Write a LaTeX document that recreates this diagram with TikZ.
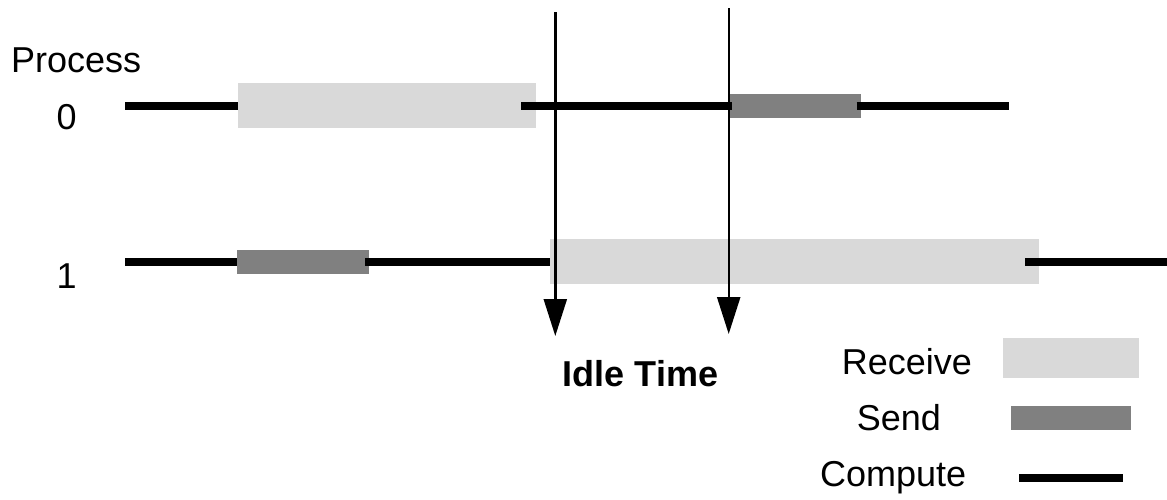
\documentclass[tikz,border=0pt]{standalone}
\usepackage{fontspec}
\setmainfont{Liberation Sans}
\usetikzlibrary{arrows.meta}
\definecolor{recvgray}{HTML}{D9D9D9}
\definecolor{sendgray}{HTML}{808080}
\begin{document}
\begin{tikzpicture}[x=1pt,y=-1pt,
  recvbar/.style={fill=recvgray},
  sendbar/.style={fill=sendgray},
  computebar/.style={line width=7.7pt},
  idlearrow/.style={line width=2.4pt,-{Triangle[length=37pt,width=23pt]}},
  lbl/.style={font=\fontsize{36}{42}\selectfont,inner sep=0pt,anchor=base west},
  boldlbl/.style={lbl,font=\fontsize{36}{42}\selectfont\bfseries}]
\useasboundingbox (0,0) rectangle (1167,499);

% labels for the process rows
\node[lbl] (ptitle) at (11,72) {Process};
\node[lbl] (p0) at (56.5,129) {0};
\node[lbl] (p1) at (56.5,288) {1};

% process 0: receive and send phases
\fill[recvbar] (238,83.3) rectangle (535.7,128.3);
\fill[sendbar] (729.5,94) rectangle (860.7,117.7);
% process 1: send and receive phases
\fill[sendbar] (236.7,250) rectangle (369,273.7);
\fill[recvbar] (550.2,239.3) rectangle (1039.4,284);

% compute segments
\draw[computebar] (125,106) -- (238,106);
\draw[computebar] (521,106) -- (732,106);
\draw[computebar] (856.7,106) -- (1009,106);
\draw[computebar] (125,262) -- (237,262);
\draw[computebar] (365,262) -- (550.2,262);
\draw[computebar] (1025,262) -- (1167,262);

% idle-time markers
\coordinate (a1top) at (555.3,12);
\coordinate (a1tip) at (555.3,336);
\coordinate (a2top) at (728.7,8);
\coordinate (a2tip) at (728.7,334);
\draw[idlearrow] (a1top) -- (a1tip);
\draw[idlearrow] (a2top) -- (a2tip);
\node[boldlbl] (idle) at (562.7,386) {Idle Time};

% legend
\node[lbl] (lrecv) at (841.7,374.3) {Receive};
\node[lbl] (lsend) at (856.7,430) {Send};
\node[lbl] (lcomp) at (820,486.5) {Compute};
\fill[recvbar] (1003,338) rectangle (1139,377.7);
\fill[sendbar] (1011,406) rectangle (1131,430);
\draw[computebar] (1019,478) -- (1122.7,478);
\end{tikzpicture}
\end{document}
